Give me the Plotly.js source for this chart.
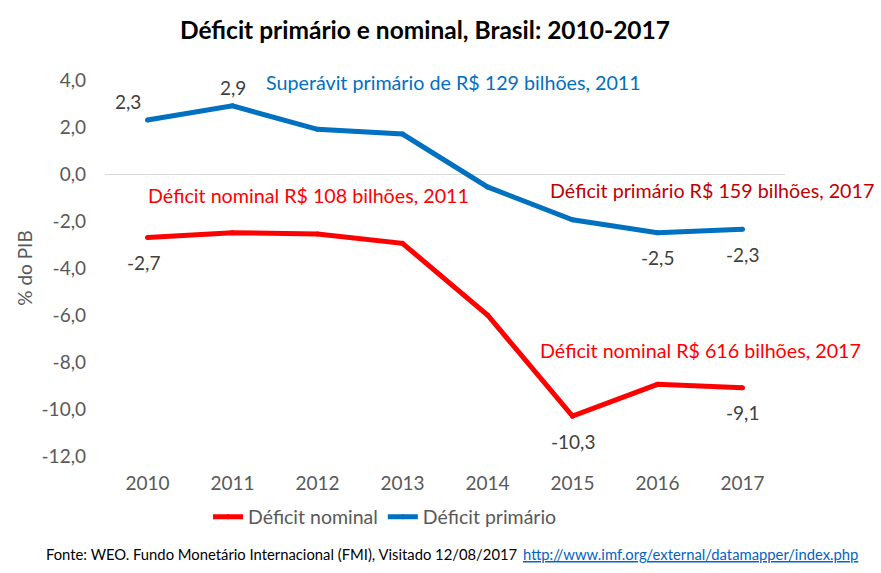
<!DOCTYPE html>
<html>
<head>
<meta charset="utf-8">
<script src="https://cdn.plot.ly/plotly-3.0.1.min.js"></script>
<style>html,body{margin:0;padding:0;background:#fff;}#chart{width:881px;height:573px;}</style>
</head>
<body>
<div id="chart"></div>
<script>
var years = ['2010','2011','2012','2013','2014','2015','2016','2017'];
var nominal = [-2.7, -2.5, -2.55, -2.95, -6.0, -10.3, -8.95, -9.1];
var primario = [2.3, 2.9, 1.9, 1.7, -0.55, -1.95, -2.5, -2.35];
var nominalLabels = ['-2,7', '', '', '', '', '-10,3', '', '-9,1'];
var primarioLabels = ['2,3', '2,9', '', '', '', '', '-2,5', '-2,3'];
var yTicks = [4, 2, 0, -2, -4, -6, -8, -10, -12];
var yTickText = ['4,0', '2,0', '0,0', '-2,0', '-4,0', '-6,0', '-8,0', '-10,0', '-12,0'];

var FONT = 'Lato, "Open Sans", sans-serif';
var traces = [
  {x: years, y: nominal, name: 'Déficit nominal', type: 'scatter', mode: 'lines+markers',
   line: {color: '#FF0000', width: 5}, marker: {color: '#FF0000', size: 5}, hoverinfo: 'x+y'},
  {x: years, y: primario, name: 'Déficit primário', type: 'scatter', mode: 'lines+markers',
   line: {color: '#0070C0', width: 5}, marker: {color: '#0070C0', size: 5}, hoverinfo: 'x+y'}
];

function px(x){ return (x - 105) / 680; }
function py(y){ return (456 - y) / 376; }

var annotations = [
  {xref: 'paper', yref: 'paper', x: px(454), y: py(82), text: 'Superávit primário de R$ 129 bilhões, 2011',
   showarrow: false, font: {family: FONT, size: 19.7, color: '#0070C0'}, xanchor: 'center', yanchor: 'middle'},
  {xref: 'paper', yref: 'paper', x: px(308), y: py(195), text: 'Déficit nominal R$ 108 bilhões, 2011',
   showarrow: false, font: {family: FONT, size: 19.7, color: '#FF0000'}, xanchor: 'center', yanchor: 'middle'},
  {xref: 'paper', yref: 'paper', x: px(712), y: py(190), text: 'Déficit primário R$ 159 bilhões, 2017',
   showarrow: false, font: {family: FONT, size: 19.7, color: '#C00000'}, xanchor: 'center', yanchor: 'middle'},
  {xref: 'paper', yref: 'paper', x: px(700), y: py(350), text: 'Déficit nominal R$ 616 bilhões, 2017',
   showarrow: false, font: {family: FONT, size: 19.7, color: '#FF0000'}, xanchor: 'center', yanchor: 'middle'},
  {xref: 'paper', yref: 'paper', x: px(519), y: py(554), text: 'Fonte: WEO. Fundo Monetário Internacional (FMI), Visitado 12/08/2017',
   showarrow: false, font: {family: FONT, size: 14.8, color: '#000'}, xanchor: 'right', yanchor: 'middle'},
  {xref: 'paper', yref: 'paper', x: px(521), y: py(554), text: 'http://www.imf.org/external/datamapper/index.php',
   showarrow: false, font: {family: FONT, size: 14.8, color: '#0563C1', lineposition: 'under'}, xanchor: 'left', yanchor: 'middle'}
];

function addLabels(vals, labels){
  for (var i = 0; i < vals.length; i++) {
    if (!labels[i]) continue;
    var above = vals[i] > 0;
    annotations.push({x: i, y: vals[i], xref: 'x', yref: 'y', text: labels[i], showarrow: false,
      font: {family: FONT, size: 19, color: '#404040'}, xanchor: 'center', yanchor: 'middle',
      yshift: above ? 18 : -25, xshift: (i === 0 ? (above ? -20 : -4) : 0)});
  }
}
addLabels(nominal, nominalLabels);
addLabels(primario, primarioLabels);

var layout = {
  width: 881, height: 573,
  margin: {l: 105, r: 96, t: 80, b: 117},
  paper_bgcolor: '#fff', plot_bgcolor: '#fff',
  font: {family: FONT, color: '#595959'},
  title: {text: '<b>Déficit primário e nominal, Brasil: 2010-2017</b>', font: {family: FONT, size: 24.5, color: '#000'},
          x: 425/881, xanchor: 'center', y: 1 - 30/573, yanchor: 'middle'},
  showlegend: true,
  legend: {orientation: 'h', x: px(385), xanchor: 'center', y: py(517), yanchor: 'middle',
           font: {family: FONT, size: 19.5, color: '#595959'}, itemwidth: 30, tracegroupgap: 0},
  xaxis: {type: 'category', categoryorder: 'array', categoryarray: years, range: [-0.5, years.length - 0.5],
          autorange: false, showgrid: false, zeroline: false, showline: false, ticks: '',
          ticklabelstandoff: 14,
          tickfont: {family: FONT, size: 19, color: '#595959'}, fixedrange: true},
  yaxis: {range: [-12, 4], autorange: false, tickvals: yTicks, ticktext: yTickText, showgrid: false,
          zeroline: true, zerolinecolor: '#D9D9D9', zerolinewidth: 1, showline: false, ticks: '',
          ticklabelstandoff: 18,
          tickfont: {family: FONT, size: 19, color: '#595959'},
          title: {text: '% do PIB', font: {family: FONT, size: 19, color: '#595959'}, standoff: 3}, fixedrange: true},
  annotations: annotations
};

Plotly.newPlot('chart', traces, layout, {displayModeBar: false, responsive: false});
</script>
</body>
</html>
